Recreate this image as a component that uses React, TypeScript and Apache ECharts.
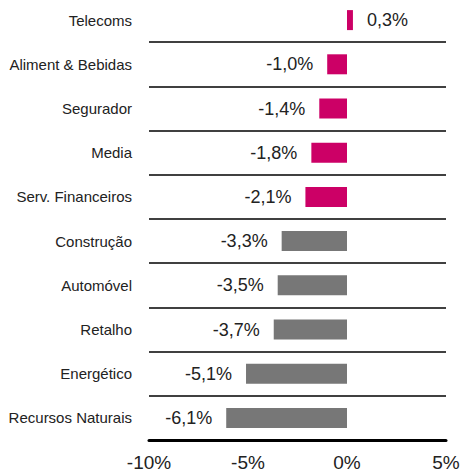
import React, { useEffect, useRef } from "react";
import * as echarts from "echarts";

const categories = [
  "Telecoms",
  "Aliment & Bebidas",
  "Segurador",
  "Media",
  "Serv. Financeiros",
  "Construção",
  "Automóvel",
  "Retalho",
  "Energético",
  "Recursos Naturais",
];
const values = [0.3, -1.0, -1.4, -1.8, -2.1, -3.3, -3.5, -3.7, -5.1, -6.1];
const highlighted = [true, true, true, true, true, false, false, false, false, false];
const xTicks = [-10, -5, 0, 5];

const PINK = "#CC0066";
const GREY = "#777777";
const FONT = "'Liberation Sans', Arial, sans-serif";

export default function App() {
  const ref = useRef<HTMLDivElement>(null);
  useEffect(() => {
    if (!ref.current) return;
    const chart = echarts.init(ref.current, undefined, { renderer: "svg" });
    chart.setOption({
      animation: false,
      grid: {
        left: 149,
        right: 16,
        top: -2,
        bottom: 35,
        containLabel: false,
        outerBoundsMode: "none",
      },
      xAxis: {
        type: "value",
        min: xTicks[0],
        max: xTicks[xTicks.length - 1],
        interval: 5,
        position: "bottom",
        axisLine: { show: true, onZero: false, lineStyle: { color: "#000", width: 3 } },
        axisTick: { show: false },
        splitLine: { show: false },
        axisLabel: {
          formatter: (v: number) => `${v}%`,
          fontFamily: FONT,
          fontSize: 19,
          color: "#222",
          margin: 13,
        },
      },
      yAxis: {
        type: "category",
        data: categories,
        inverse: true,
        axisLine: { show: false },
        axisTick: { show: false },
        splitLine: {
          show: true,
          showMinLine: false,
          showMaxLine: false,
          lineStyle: { color: "#000", width: 1.6 },
        },
        axisLabel: {
          fontFamily: FONT,
          fontSize: 15,
          color: "#222",
          margin: 17,
        },
      },
      series: [
        {
          type: "bar",
          barWidth: 20,
          data: values.map((v, i) => ({
            value: v,
            itemStyle: { color: highlighted[i] ? PINK : GREY },
            label: {
              show: true,
              position: v < 0 ? "left" : "right",
              distance: 14,
              formatter: () => `${v.toFixed(1).replace(".", ",")}%`,
              fontFamily: FONT,
              fontSize: 18,
              color: "#222",
            },
          })),
        },
      ],
    });
    return () => chart.dispose();
  }, []);
  return <div ref={ref} style={{ width: 462, height: 475, position: "absolute", left: 0, top: 0 }} />;
}
